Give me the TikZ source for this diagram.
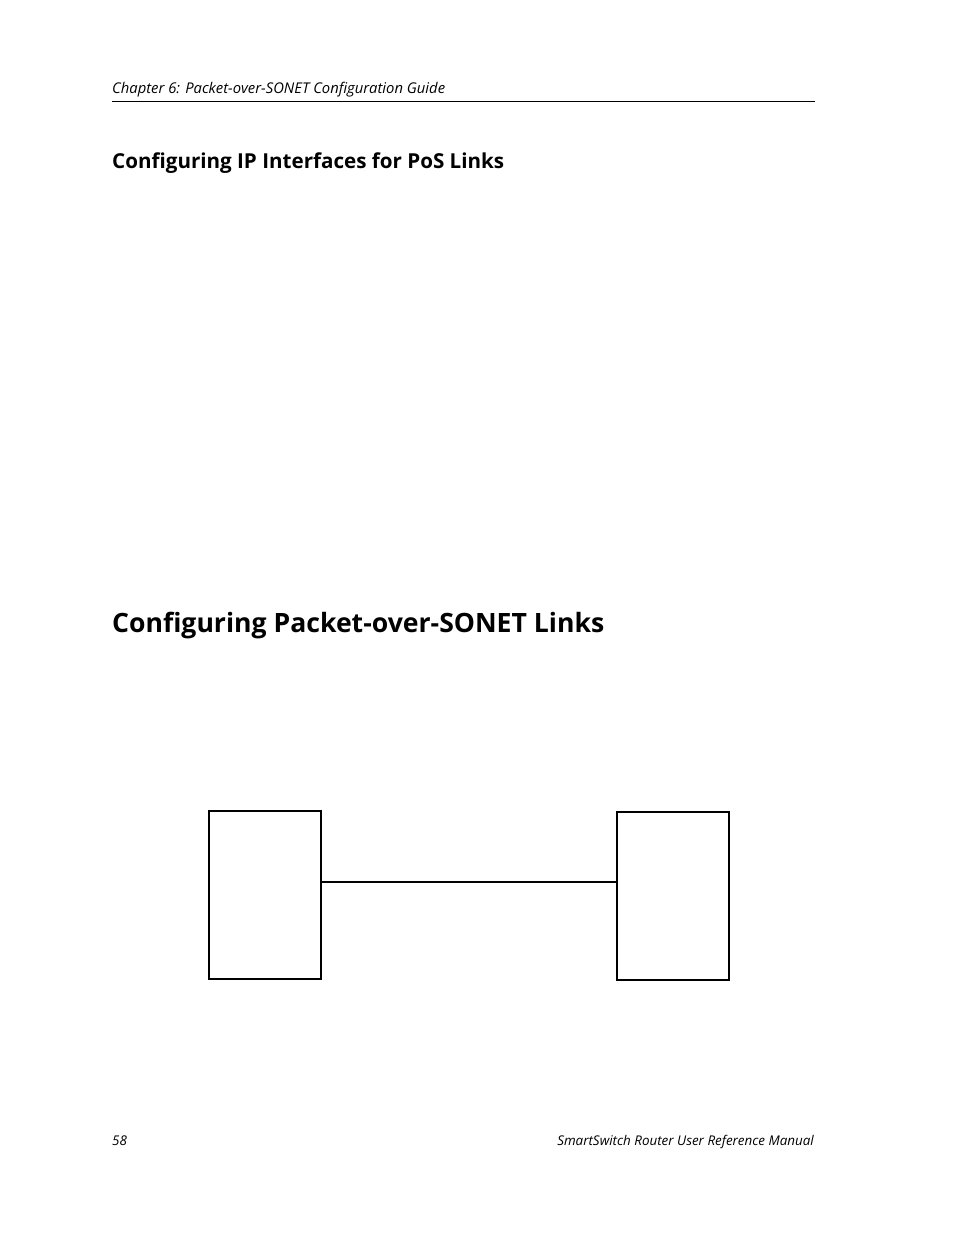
\documentclass[tikz,border=0pt]{standalone}
\usepackage{fontspec}
\setmainfont{Open Sans}
\begin{document}
\begin{tikzpicture}[x=1pt,y=-1pt,
  dev/.style={draw,line width=1.1pt,minimum width=112pt,minimum height=168pt,inner sep=0pt},
  link/.style={line width=1.1pt},
  txt/.style={inner sep=0pt,anchor=base west}]
\useasboundingbox (0,0) rectangle (954,1235);
\node[txt] (hdr) at (112,93) {\fontsize{14.8}{17}\selectfont\itshape Chapter 6: Packet-over-SONET Configuration Guide};
\coordinate (hl) at (112,101);
\coordinate (hr) at (815,101);
\draw[line width=1pt] (hl) -- (hr);
\node[txt] (h1) at (112,168) {\fontsize{20.6}{24}\selectfont\bfseries Configuring IP Interfaces for PoS Links};
\node[txt] (h2) at (112,632) {\fontsize{26.6}{32}\selectfont\bfseries Configuring Packet-over-SONET Links};
\node[dev] (a) at (265,895) {};
\node[dev] (b) at (673,896) {};
\draw[link] (a.east |- 0,882) coordinate (l1) -- (b.west |- 0,882) coordinate (l2);
\node[txt] (pg) at (112,1145) {\fontsize{13.4}{15}\selectfont\itshape 58};
\node[inner sep=0pt,anchor=base east] (ft) at (814,1145) {\fontsize{13.4}{15}\selectfont\itshape SmartSwitch Router User Reference Manual};
\end{tikzpicture}
\end{document}
